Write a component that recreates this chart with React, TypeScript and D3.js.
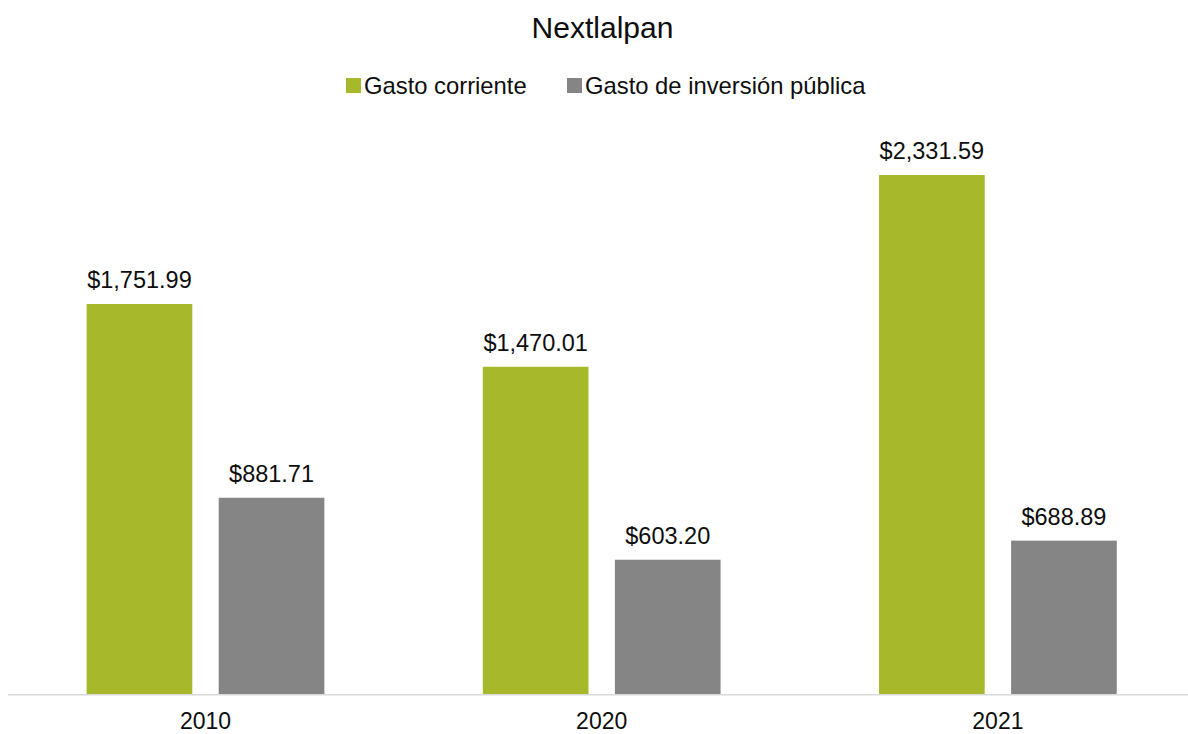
import React from "react";
import * as d3 from "d3";

const categories = ["2010", "2020", "2021"];
const seriesNames = ["Gasto corriente", "Gasto de inversión pública"];
const gastoCorriente = [1751.99, 1470.01, 2331.59];
const gastoInversion = [881.71, 603.2, 688.89];
const seriesColors = ["#A7B82A", "#858585"];
const yMax = 2500;

const W = 1188;
const H = 734;

export default function App() {
  const series = [gastoCorriente, gastoInversion];
  const x = d3.scaleBand<string>().domain(categories).range([7.4, 1196]).padding(0);
  const xi = d3
    .scaleBand<string>()
    .domain(seriesNames)
    .range([0, x.bandwidth()])
    .paddingInner(0.2)
    .paddingOuter(0.6);
  const y = d3.scaleLinear().domain([0, yMax]).range([694, 137.5]);
  const fmt = d3.format("$,.2f");
  const font = "'Liberation Sans', Arial, sans-serif";

  const legendItems = [
    { sx: 346, tx: 364 },
    { sx: 567, tx: 585 },
  ];

  return (
    <svg
      width={W}
      height={H}
      style={{ position: "absolute", left: 0, top: 0, background: "#fff" }}
      fontFamily={font}
    >
      <rect x={0} y={0} width={W} height={H} fill="#fff" />
      <text x={602.5} y={38.3} textAnchor="middle" fontSize={30} fill="#0d0d0d">
        Nextlalpan
      </text>
      {seriesNames.map((name, i) => (
        <g key={name}>
          <rect x={legendItems[i].sx} y={78} width={15} height={15} fill={seriesColors[i]} />
          <text x={legendItems[i].tx} y={94.3} fontSize={23.8} fill="#0d0d0d">
            {name}
          </text>
        </g>
      ))}
      {categories.map((cat, ci) => (
        <g key={cat} transform={`translate(${x(cat)},0)`}>
          {seriesNames.map((name, si) => {
            const v = series[si][ci];
            const bx = xi(name)!;
            const bw = xi.bandwidth();
            return (
              <g key={name}>
                <rect x={bx} y={y(v)} width={bw} height={y(0) - y(v)} fill={seriesColors[si]} />
                <text
                  x={bx + bw / 2}
                  y={y(v) - 16}
                  textAnchor="middle"
                  fontSize={23.5}
                  fill="#0d0d0d"
                >
                  {fmt(v)}
                </text>
              </g>
            );
          })}
          <text
            x={x.bandwidth() / 2}
            y={729.3}
            textAnchor="middle"
            fontSize={23}
            fill="#0d0d0d"
          >
            {cat}
          </text>
        </g>
      ))}
      <line x1={8} x2={W} y1={y(0) + 0.75} y2={y(0) + 0.75} stroke="#D9D9D9" strokeWidth={1.5} />
    </svg>
  );
}
